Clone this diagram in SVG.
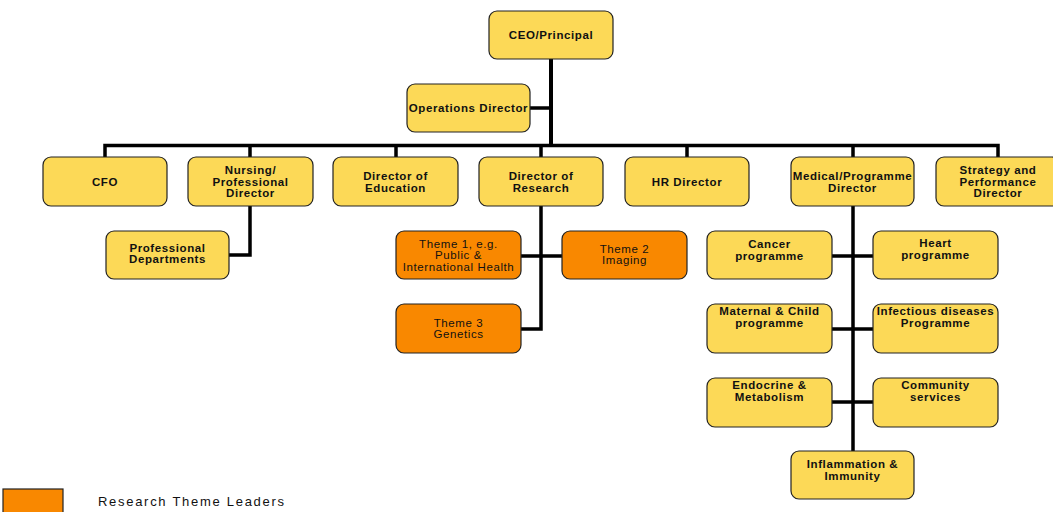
<svg xmlns="http://www.w3.org/2000/svg" width="1053" height="512" viewBox="0 0 1053 512">
<style>
.box{fill:#FCD957;stroke:#222;stroke-width:1.2}
.org{fill:#F98800;stroke:#222;stroke-width:1.2}
.t{font-family:"Liberation Sans",Arial,sans-serif;font-size:11.5px;font-weight:bold;fill:#111;text-anchor:middle;letter-spacing:0.6px}
.tn{font-family:"Liberation Sans",Arial,sans-serif;font-size:11.5px;fill:#111;text-anchor:middle;letter-spacing:0.6px}
.c{fill:none;stroke:#000;stroke-width:3.5;stroke-linecap:butt;stroke-linejoin:miter}
</style>
<rect width="1053" height="512" fill="#fff"/>
<g id="connectors">
<path class="c" d="M551 59V147" style="stroke-width:4"/>
<path class="c" d="M530 108H551"/>
<path class="c" d="M105 157V145.5H998V157"/>
<path class="c" d="M250 145.5V157M396 145.5V157M541 145.5V157M687 145.5V157M853 145.5V157"/>
<path class="c" d="M250 206V255H229"/>
<path class="c" d="M541 206V329H521M521 256H562"/>
<path class="c" d="M853 206V451M832 256H873M832 329H873M832 402H873"/>
</g>
<g id="ceo"><rect class="box" x="489" y="11" width="124" height="48" rx="8"/><text class="t" x="551" y="39">CEO/Principal</text></g>
<g id="ops"><rect class="box" x="407" y="84" width="123" height="48" rx="8"/><text class="t" x="468.5" y="112">Operations Director</text></g>
<g id="cfo"><rect class="box" x="43" y="157" width="124" height="49" rx="8"/><text class="t" x="105" y="186">CFO</text></g>
<g id="nursing"><rect class="box" x="188" y="157" width="125" height="49" rx="8"/><text class="t" x="250.5" y="174">Nursing/</text><text class="t" x="250.5" y="185.5">Professional</text><text class="t" x="250.5" y="197">Director</text></g>
<g id="education"><rect class="box" x="333" y="157" width="125" height="49" rx="8"/><text class="t" x="395.5" y="180">Director of</text><text class="t" x="395.5" y="192">Education</text></g>
<g id="research"><rect class="box" x="479" y="157" width="124" height="49" rx="8"/><text class="t" x="541" y="180">Director of</text><text class="t" x="541" y="192">Research</text></g>
<g id="hr"><rect class="box" x="625" y="157" width="124" height="49" rx="8"/><text class="t" x="687" y="186">HR Director</text></g>
<g id="medical"><rect class="box" x="791" y="157" width="123" height="49" rx="8"/><text class="t" x="852.5" y="180">Medical/Programme</text><text class="t" x="852.5" y="192">Director</text></g>
<g id="strategy"><rect class="box" x="936" y="157" width="124" height="49" rx="8"/><text class="t" x="998" y="174">Strategy and</text><text class="t" x="998" y="185.5">Performance</text><text class="t" x="998" y="197">Director</text></g>
<g id="profdept"><rect class="box" x="106" y="231" width="123" height="48" rx="8"/><text class="t" x="167.5" y="252">Professional</text><text class="t" x="167.5" y="263">Departments</text></g>
<g id="theme1"><rect class="org" x="396" y="231" width="125" height="48" rx="8"/><text class="tn" x="458.5" y="248">Theme 1, e.g.</text><text class="tn" x="458.5" y="259">Public &amp;</text><text class="tn" x="458.5" y="270.5">International Health</text></g>
<g id="theme2"><rect class="org" x="562" y="231" width="125" height="48" rx="8"/><text class="tn" x="624.5" y="253">Theme 2</text><text class="tn" x="624.5" y="264">Imaging</text></g>
<g id="theme3"><rect class="org" x="396" y="304" width="125" height="49" rx="8"/><text class="tn" x="458.5" y="327">Theme 3</text><text class="tn" x="458.5" y="337.5">Genetics</text></g>
<g id="cancer"><rect class="box" x="707" y="231" width="125" height="48" rx="8"/><text class="t" x="769.5" y="248">Cancer</text><text class="t" x="769.5" y="259.5">programme</text></g>
<g id="heart"><rect class="box" x="873" y="231" width="125" height="48" rx="8"/><text class="t" x="935.5" y="247">Heart</text><text class="t" x="935.5" y="259">programme</text></g>
<g id="maternal"><rect class="box" x="707" y="304" width="125" height="49" rx="8"/><text class="t" x="769.5" y="315">Maternal &amp; Child</text><text class="t" x="769.5" y="327">programme</text></g>
<g id="infectious"><rect class="box" x="873" y="304" width="125" height="49" rx="8"/><text class="t" x="935.5" y="315">Infectious diseases</text><text class="t" x="935.5" y="326.5">Programme</text></g>
<g id="endocrine"><rect class="box" x="707" y="378" width="125" height="49" rx="8"/><text class="t" x="769.5" y="389">Endocrine &amp;</text><text class="t" x="769.5" y="400.5">Metabolism</text></g>
<g id="community"><rect class="box" x="873" y="378" width="125" height="49" rx="8"/><text class="t" x="935.5" y="389">Community</text><text class="t" x="935.5" y="400.5">services</text></g>
<g id="inflammation"><rect class="box" x="791" y="451" width="123" height="48" rx="8"/><text class="t" x="852.5" y="468">Inflammation &amp;</text><text class="t" x="852.5" y="480">Immunity</text></g>
<g id="legend"><rect class="org" x="3" y="489" width="60" height="30"/><text x="98" y="506" textLength="186" lengthAdjust="spacing" style="font-family:'Liberation Sans',Arial,sans-serif;font-size:13px;fill:#111">Research Theme Leaders</text></g>
</svg>
